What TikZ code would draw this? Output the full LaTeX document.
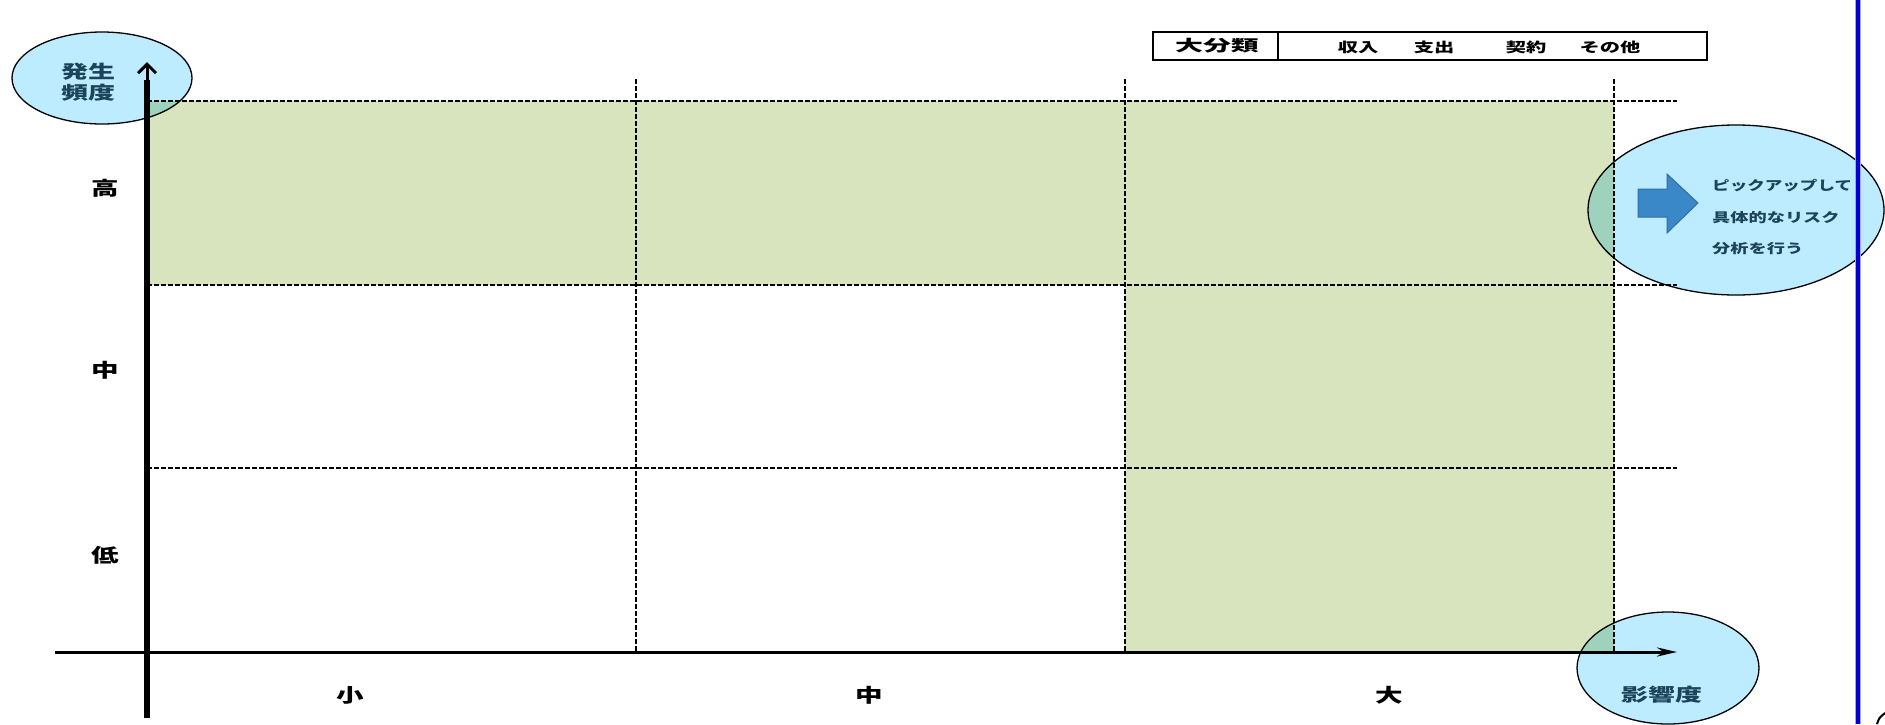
\documentclass[tikz,border=0pt]{standalone}
\usepackage{fontspec}
\newfontfamily\jp{Noto Sans CJK JP}
\usetikzlibrary{shapes.geometric,arrows.meta}
\definecolor{gridgreen}{RGB}{215,228,189}
\definecolor{bubble}{RGB}{189,235,255}
\definecolor{navytxt}{RGB}{28,68,88}
\definecolor{arrowblue}{RGB}{58,136,200}
\definecolor{arrowedge}{RGB}{46,110,170}
\definecolor{rulerblue}{RGB}{0,0,210}
\newcommand{\hstretch}[2]{\scalebox{#1}[1]{#2}}
\tikzset{
  gridline/.style={line width=1.6pt, dash pattern=on 5pt off 2pt, black},
  bubbleshape/.style={ellipse, draw=black, line width=1.3pt, fill=bubble, inner sep=0pt},
  axislabel/.style={font=\jp\bfseries\fontsize{19}{19}\selectfont, text=black, inner sep=0pt},
  bubbletext/.style={font=\jp\bfseries, text=navytxt, inner sep=0pt},
  legendtext/.style={font=\jp\bfseries\fontsize{13.5}{13.5}\selectfont, text=black, inner sep=0pt}
}
\begin{document}
\begin{tikzpicture}[x=1pt,y=-1pt]
\useasboundingbox (0,0) rectangle (1885,724);
\fill[white] (0,0) rectangle (1885,724);
% green cells
\fill[gridgreen] (147,101) rectangle (1614,285);
\fill[gridgreen] (1125,285) rectangle (1614,653);
% grid lines
\draw[gridline] (147,101) -- (1677,101);
\draw[gridline] (147,285) -- (1677,285);
\draw[gridline] (147,468) -- (1677,468);
\draw[gridline] (636,79) -- (636,653);
\draw[gridline] (1125,79) -- (1125,653);
\draw[gridline] (1614,79) -- (1614,653);
% axes
\coordinate (xs) at (55,652);
\coordinate (xe) at (1677,652);
\coordinate (ys) at (147,100);
\coordinate (ye) at (147,62);
\coordinate (yb) at (147,718);
\coordinate (yt) at (147,80);
\draw[line width=3pt, -{Stealth[length=20pt,width=9pt]}] (xs) -- (xe);
\draw[line width=3pt, -{Straight Barb[length=9pt,width=18pt,line width=3pt]}] (ys) -- (ye);
\draw[line width=6pt] (yb) -- (yt);
% bubbles (multiply so lines stay visible)
\begin{scope}[blend mode=multiply]
\node[bubbleshape, minimum width=180pt, minimum height=92pt] (bfreq) at (102,78) {};
\node[bubbleshape, minimum width=296pt, minimum height=170pt] (bpick) at (1736,210) {};
\node[bubbleshape, minimum width=182pt, minimum height=112pt] (bimp) at (1668,668) {};
\end{scope}
% bubble texts
\node[bubbletext, font=\jp\bfseries\fontsize{18}{20.5}\selectfont, align=center] (tfreq) at (88,82) {\hstretch{1.5}{発生}\\\hstretch{1.5}{頻度}};
\node[bubbletext, font=\jp\bfseries\fontsize{18}{18}\selectfont] (timp) at (1662,695) {\hstretch{1.5}{影響度}};
\node[bubbletext, font=\jp\bfseries\fontsize{13}{13}\selectfont, anchor=west] (tp1) at (1712,186) {\hstretch{1.35}{ピックアップして}};
\node[bubbletext, font=\jp\bfseries\fontsize{13}{13}\selectfont, anchor=west] (tp2) at (1712,218) {\hstretch{1.4}{具体的なリスク}};
\node[bubbletext, font=\jp\bfseries\fontsize{13}{13}\selectfont, anchor=west] (tp3) at (1712,249) {\hstretch{1.4}{分析を行う}};
% block arrow
\draw[fill=arrowblue, draw=arrowedge, line width=1pt]
  (1638,189) -- (1667,189) -- (1667,174) -- (1698,203) -- (1667,233) -- (1667,217) -- (1638,217) -- cycle;
% row labels
\node[axislabel] (lhigh) at (105,188) {\hstretch{1.45}{高}};
\node[axislabel] (lmid) at (105,370) {\hstretch{1.45}{中}};
\node[axislabel] (llow) at (105,555) {\hstretch{1.45}{低}};
% column labels
\node[axislabel] (csmall) at (350,695) {\hstretch{1.45}{小}};
\node[axislabel] (cmid) at (869,695) {\hstretch{1.45}{中}};
\node[axislabel] (cbig) at (1389,695) {\hstretch{1.45}{大}};
% legend box
\draw[line width=2pt] (1153,32) rectangle (1707,60);
\draw[line width=1.5pt] (1278,32) -- (1278,60);
\node[legendtext, font=\jp\bfseries\fontsize{15.5}{15.5}\selectfont] (lgtitle) at (1217,46) {\hstretch{1.8}{大分類}};
\node[legendtext] (lg1) at (1358,47) {\hstretch{1.5}{収入}};
\node[legendtext] (lg2) at (1434,47) {\hstretch{1.5}{支出}};
\node[legendtext] (lg3) at (1526,47) {\hstretch{1.5}{契約}};
\node[legendtext] (lg4) at (1610,47) {\hstretch{1.5}{その他}};
% blue ruler line
\draw[rulerblue!35, line width=6pt] (1858,0) -- (1858,724);
\draw[rulerblue, line width=3.5pt] (1858,0) -- (1858,724);
% corner stroke
\draw[line width=2pt] (1877,724) .. controls (1879,718) .. (1885,713);
\end{tikzpicture}
\end{document}
